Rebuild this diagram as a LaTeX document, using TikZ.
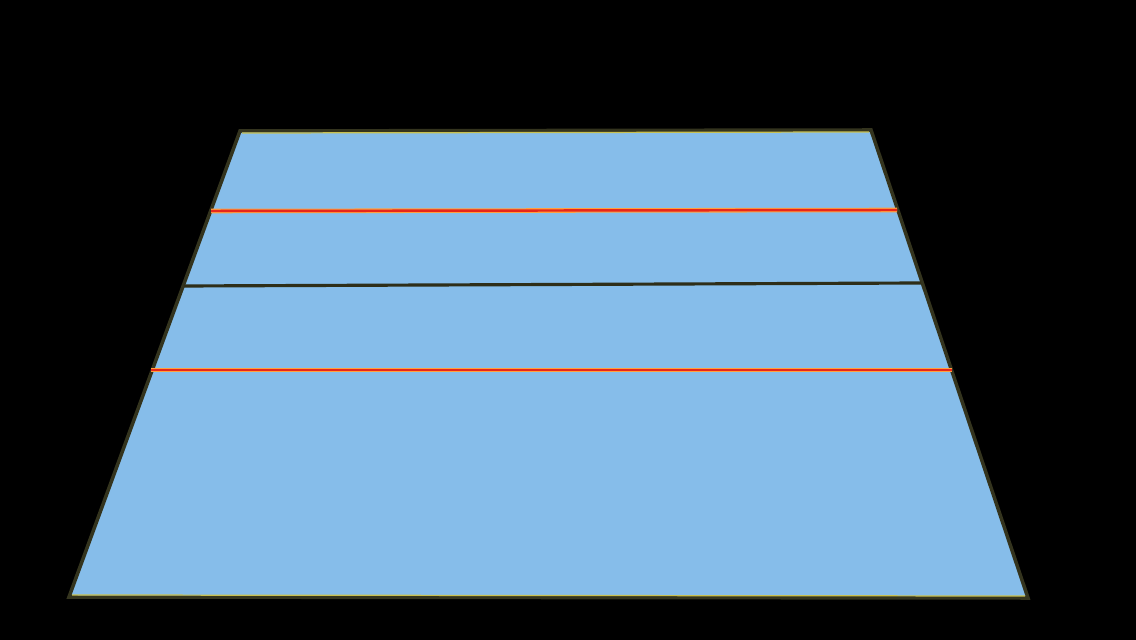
\documentclass[tikz,border=0pt]{standalone}
\usepackage{tikz}
\tikzset{
  plate/.style={fill=plateblue,draw=rimolive,line width=1pt,line join=miter},
  rimglow/.style={draw=rimyellow,line width=0.35pt},
  redline/.style={draw=redcore,line width=0.7pt},
  redglow/.style={draw=redglowc,line width=1.3pt},
  midline/.style={draw=midolive,line width=0.9pt}
}
\definecolor{plateblue}{HTML}{86BDEA}
\definecolor{rimolive}{HTML}{34341E}
\definecolor{rimyellow}{HTML}{C8C050}
\definecolor{redcore}{HTML}{E8261A}
\definecolor{redglowc}{HTML}{FFA040}
\definecolor{midolive}{HTML}{2E2E18}
\begin{document}
\begin{tikzpicture}[x=0.01cm,y=-0.01cm]
    \fill[black] (0,0) rectangle (1136,640);
    \useasboundingbox (0,0) rectangle (1136,640);
    % corners of the plate
    \coordinate (tl) at (240,131);
    \coordinate (tr) at (871,130);
    \coordinate (br) at (1028,598);
    \coordinate (bl) at (69,597);
    % ends of the three cross lines
    \coordinate (r1l) at (211,211);
    \coordinate (r1r) at (897,210);
    \coordinate (ml) at (184,286);
    \coordinate (mr) at (921,283);
    \coordinate (r2l) at (151,370);
    \coordinate (r2r) at (952,370);
    \draw[plate] (tl) -- (tr) -- (br) -- (bl) -- cycle;
    \draw[rimglow] ([shift={(2,2)}]tl) -- ([shift={(-2,2)}]tr);
    \draw[rimglow] ([shift={(3,-2)}]bl) -- ([shift={(-3,-2)}]br);
    \draw[redglow] (r1l) -- (r1r);
    \draw[redline] (r1l) -- (r1r);
    \draw[midline] (ml) -- (mr);
    \draw[redglow] (r2l) -- (r2r);
    \draw[redline] (r2l) -- (r2r);
\end{tikzpicture}
\end{document}
